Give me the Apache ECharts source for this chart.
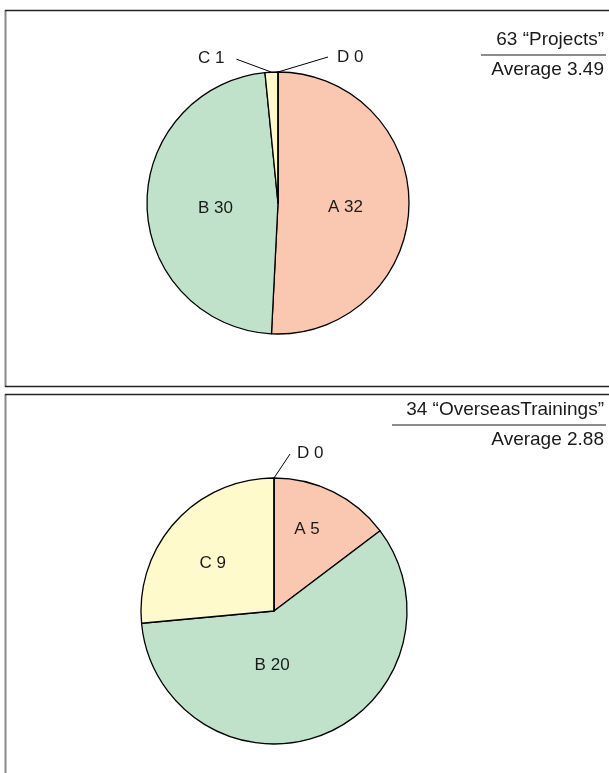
<!DOCTYPE html>
<html>
<head>
<meta charset="utf-8">
<script src="https://cdn.jsdelivr.net/npm/echarts@6/dist/echarts.min.js"></script>
<style>
  html, body { margin: 0; padding: 0; background: #fff; }
  #chart { width: 609px; height: 773px; }
</style>
</head>
<body>
<div id="chart"></div>
<script>
// Grade categories and counts for each survey item
const categories = ['A', 'B', 'C', 'D'];
const gradePoints = [4, 3, 2, 1];
const projectsName = 'Projects';
const projectsCounts = [32, 30, 1, 0];
const trainingsName = 'OverseasTrainings';
const trainingsCounts = [5, 20, 9, 0];
const sliceColors = ['#FAC8B0', '#C0E2CA', '#FEFACC', '#FFFFFF'];

const FONT = '"Liberation Sans", Arial, Helvetica, sans-serif';
const TEXT_COLOR = '#1a1a1a';
const LABEL_SIZE = 17;
const HEADER_SIZE = 19;

function total(values) {
  return values.reduce((s, v) => s + v, 0);
}
function average(values) {
  return values.reduce((s, v, i) => s + v * gradePoints[i], 0) / total(values);
}

// Label placement per panel: inside labels get small nudges,
// outside labels get a straight leader line in the given direction.
const projectsLabels = {
  inside: { A: [-1, 3], B: [6, 4] },
  outside: {
    C: { dir: [-35, -13], side: 'left', gap: 12, dy: -1 },
    D: { dir: [50, -15], side: 'right', gap: 9, dy: 0 }
  }
};
const trainingsLabels = {
  inside: { A: [2, -19], B: [-27, -10], C: [-10, -1] },
  outside: { D: { dir: [16, -24], side: 'right', gap: 7, dy: -1 } }
};

function buildData(values, placement) {
  return categories.map((c, i) => {
    const outside = placement.outside[c];
    const item = {
      name: c,
      value: values[i],
      itemStyle: { color: sliceColors[i] }
    };
    if (outside) {
      item.label = { position: 'outside' };
      item.labelLine = { show: true };
    } else {
      item.label = { position: 'inside' };
      item.labelLine = { show: false };
    }
    return item;
  });
}

function makeLayout(placement) {
  return function (params) {
    const name = categories[params.dataIndex];
    const out = placement.outside[name];
    if (out && params.labelLinePoints) {
      const p0 = params.labelLinePoints[0];
      const p1 = [p0[0] + out.dir[0], p0[1] + out.dir[1]];
      const w = params.labelRect.width;
      const h = params.labelRect.height;
      const x = out.side === 'left' ? p1[0] - out.gap - w : p1[0] + out.gap;
      return {
        x: x,
        y: p1[1] - h / 2 + out.dy,
        align: 'left',
        verticalAlign: 'top',
        labelLinePoints: [p0, p1, p1]
      };
    }
    const nudge = placement.inside[name] || [0, 0];
    return { dx: nudge[0], dy: nudge[1] };
  };
}

function pieSeries(values, placement, center, radius) {
  return {
    type: 'pie',
    center: center,
    radius: radius,
    startAngle: 90,
    clockwise: true,
    avoidLabelOverlap: false,
    animation: false,
    silent: true,
    itemStyle: { borderColor: '#000', borderWidth: 1.3 },
    label: {
      show: true,
      formatter: '{b} {c}',
      color: TEXT_COLOR,
      fontFamily: FONT,
      fontSize: LABEL_SIZE
    },
    labelLine: {
      show: true,
      lineStyle: { color: '#000', width: 1 }
    },
    labelLayout: makeLayout(placement),
    data: buildData(values, placement)
  };
}

function headerGraphics(values, name, top, lineLeft) {
  const right = 604;
  return [
    {
      type: 'text', right: 609 - right, top: top,
      style: { text: total(values) + ' \u201C' + name + '\u201D', font: HEADER_SIZE + 'px ' + FONT, fill: TEXT_COLOR }
    },
    {
      type: 'line',
      shape: { x1: lineLeft, y1: top + 25, x2: 606, y2: top + 25 },
      style: { stroke: '#666', lineWidth: 1.3 }
    },
    {
      type: 'text', right: 609 - right, top: top + 30,
      style: { text: 'Average ' + average(values).toFixed(2), font: HEADER_SIZE + 'px ' + FONT, fill: TEXT_COLOR }
    }
  ];
}

const chart = echarts.init(document.getElementById('chart'), null, { renderer: 'canvas' });
chart.setOption({
  backgroundColor: '#fff',
  animation: false,
  graphic: [
    // panel frames
    { type: 'line', shape: { x1: 5.5, y1: 10, x2: 5.5, y2: 387 }, style: { stroke: '#888', lineWidth: 2 } },
    { type: 'line', shape: { x1: 5, y1: 10.5, x2: 609, y2: 10.5 }, style: { stroke: '#222', lineWidth: 1.3 } },
    { type: 'line', shape: { x1: 5, y1: 386.5, x2: 609, y2: 386.5 }, style: { stroke: '#222', lineWidth: 1.3 } },
    { type: 'line', shape: { x1: 5.5, y1: 394, x2: 5.5, y2: 773 }, style: { stroke: '#888', lineWidth: 2 } },
    { type: 'line', shape: { x1: 5, y1: 394.5, x2: 609, y2: 394.5 }, style: { stroke: '#222', lineWidth: 1.3 } }
  ]
    .concat(headerGraphics(projectsCounts, projectsName, 30, 481))
    .concat(headerGraphics(trainingsCounts, trainingsName, 400, 392)),
  series: [
    pieSeries(projectsCounts, projectsLabels, [278, 203], 131),
    pieSeries(trainingsCounts, trainingsLabels, [274, 611], 133)
  ]
});
</script>
</body>
</html>
